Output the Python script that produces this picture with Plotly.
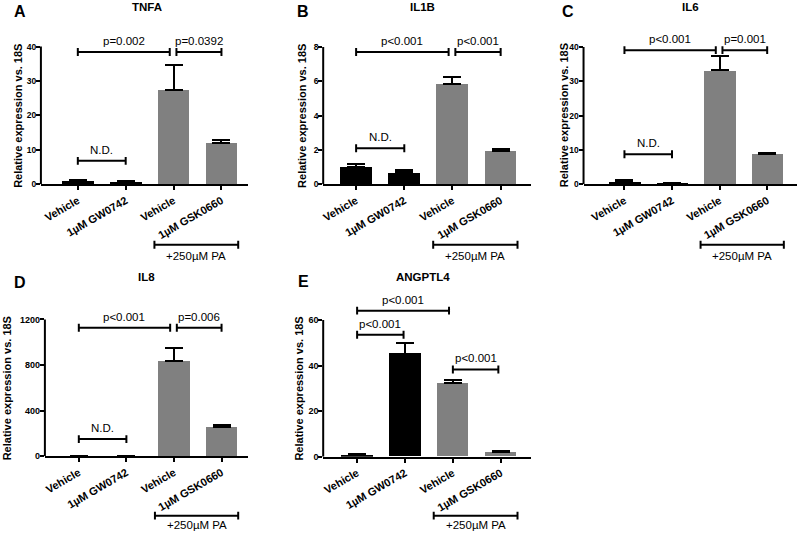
import plotly.graph_objects as go

# ---------------- data ----------------
categories = ["Vehicle", "1µM GW0742", "Vehicle", "1µM GSK0660"]
x_pos = [0, 1, 2, 3]
bar_colors = ["#000000", "#000000", "#808080", "#808080"]

tnfa_mean = [0.95, 0.75, 27.5, 12.1]
tnfa_err = [0.4, 0.2, 7.0, 0.9]
tnfa_ticks = [0, 10, 20, 30, 40]

il1b_mean = [1.02, 0.69, 5.86, 1.93]
il1b_err = [0.19, 0.13, 0.40, 0.15]
il1b_ticks = [0, 2, 4, 6, 8]

il6_mean = [0.85, 0.3, 33.2, 8.8]
il6_err = [0.3, 0.1, 4.1, 0.4]
il6_ticks = [0, 10, 20, 30, 40]

il8_mean = [0, 0, 833, 254]
il8_err = [0, 0, 120, 24]
il8_ticks = [0, 400, 800, 1200]

angptl4_mean = [0.75, 45.2, 32.2, 1.9]
angptl4_err = [0.5, 4.6, 1.3, 0.4]
angptl4_ticks = [0, 20, 40, 60]

gene_names = ["TNFA", "IL1B", "IL6", "IL8", "ANGPTL4"]
panel_letters = ["A", "B", "C", "D", "E"]
y_title = "Relative expression vs. 18S"
pa_label = "+250µM PA"

# significance brackets: (from bar, to bar, height, label)
tnfa_sig = [(0, 1.92, 38.4, "p=0.002"), (2.06, 3, 38.4, "p=0.0392"), (0, 1, 6.8, "N.D.")]
il1b_sig = [(0, 1.92, 7.71, "p<0.001"), (2.06, 3, 7.71, "p<0.001"), (0, 1, 2.1, "N.D.")]
il6_sig = [(0, 1.92, 39.1, "p<0.001"), (2.06, 3, 39.1, "p=0.001"), (0, 1, 8.75, "N.D.")]
il8_sig = [(0, 1.92, 1128, "p<0.001"), (2.06, 3, 1128, "p=0.006"), (0, 1, 150, "N.D.")]
angptl4_sig = [(0, 1.92, 64.1, "p<0.001"), (0, 0.97, 53.5, "p<0.001"), (2.0, 2.95, 38.3, "p<0.001")]

means = [tnfa_mean, il1b_mean, il6_mean, il8_mean, angptl4_mean]
errs = [tnfa_err, il1b_err, il6_err, il8_err, angptl4_err]
ticks = [tnfa_ticks, il1b_ticks, il6_ticks, il8_ticks, angptl4_ticks]
sigs = [tnfa_sig, il1b_sig, il6_sig, il8_sig, angptl4_sig]

# ---------------- layout geometry (pixels) ----------------
W, H = 800, 537
FONT = "Liberation Sans, Arial, Helvetica, sans-serif"
geom = [
    dict(left=39, right=247, bar0=76, step=48.0, base=186, ttop=47, dtop=22, ytf=8.5,
         letter=(18, 12), title=(145, 7), ytx=16.5, pa_y=247, pa_ty=258),
    dict(left=322, right=530, bar0=355, step=48.3, base=186, ttop=47.5, dtop=22, ytf=8.5,
         letter=(302, 12), title=(422, 7), ytx=300, pa_y=247, pa_ty=258),
    dict(left=583, right=797, bar0=624, step=47.7, base=186, ttop=47.5, dtop=22, ytf=8.5,
         letter=(567, 12), title=(690, 7), ytx=563, pa_y=247, pa_ty=258),
    dict(left=43, right=247, bar0=77, step=47.7, base=460.5, ttop=322.5, dtop=296, ytf=9,
         letter=(18, 285), title=(145, 280), ytx=4.5, pa_y=520.5, pa_ty=530),
    dict(left=322, right=530, bar0=356, step=48.0, base=461, ttop=323, dtop=296, ytf=9,
         letter=(302, 284), title=(422, 280), ytx=298, pa_y=520.5, pa_ty=530),
]

def px_x(p):
    return p / W

def px_y(p):
    return 1 - p / H

fig = go.Figure()
shapes = []
annotations = []
layout_axes = {}

for i in range(5):
    g = geom[i]
    n = "" if i == 0 else str(i + 1)
    xa, ya = "x" + n, "y" + n
    tk = ticks[i]
    ppu = (g["base"] - g["ttop"]) / tk[-1]          # pixels per unit
    ytop = (g["base"] - g["dtop"]) / ppu
    xr0 = -(g["bar0"] - g["left"]) / g["step"]
    xr1 = 3 + (g["right"] - (g["bar0"] + 3 * g["step"])) / g["step"]

    fig.add_trace(go.Bar(
        x=x_pos, y=means[i], marker=dict(color=bar_colors, line=dict(width=0)),
        width=0.66, xaxis=xa, yaxis=ya, showlegend=False,
        error_y=dict(type="data", symmetric=False, array=errs[i],
                     arrayminus=[0] * 4, color="black", thickness=2, width=9),
    ))

    layout_axes["xaxis" + n] = dict(
        domain=[px_x(g["left"]), px_x(g["right"])], anchor=ya, range=[xr0, xr1],
        tickmode="array", tickvals=x_pos, ticktext=categories, tickangle=-30,
        showline=True, linewidth=2, linecolor="black", ticks="outside",
        ticklen=4, tickwidth=2, tickcolor="black", showgrid=False, zeroline=False,
        tickfont=dict(family=FONT, size=11, color="black", weight="bold"),
    )
    layout_axes["yaxis" + n] = dict(
        domain=[px_y(g["base"]), px_y(g["dtop"])], anchor=xa, range=[0, ytop],
        tickmode="array", tickvals=tk, showline=False, ticks="outside",
        ticklen=4, tickwidth=2, tickcolor="black", showgrid=False, zeroline=False,
        ticklabelstandoff=-2,
        tickfont=dict(family=FONT, size=g["ytf"], color="black", weight="bold"),
    )

    # y axis line up to the top tick
    shapes.append(dict(type="line", xref=xa + " domain", yref=ya, x0=0, x1=0,
                       y0=0, y1=tk[-1], line=dict(color="black", width=2)))

    # significance brackets
    cap = 4 / ppu
    for (a, b, yv, lab) in sigs[i]:
        shapes.append(dict(
            type="path", xref=xa, yref=ya,
            path=f"M {a},{yv - cap} L {a},{yv + cap} M {a},{yv} L {b},{yv} M {b},{yv - cap} L {b},{yv + cap}",
            line=dict(color="black", width=2)))
        annotations.append(dict(
            x=(a + b) / 2, y=yv, xref=xa, yref=ya, text=lab, showarrow=False,
            yanchor="bottom", yshift=3,
            font=dict(family=FONT, size=11.5, color="black")))

    # +250µM PA bracket under the last two bars
    pcap = 4 / H
    py = px_y(g["pa_y"])
    shapes.append(dict(
        type="path", xref=xa, yref="paper",
        path=f"M 1.6,{py - pcap} L 1.6,{py + pcap} M 1.6,{py} L 3.35,{py} M 3.35,{py - pcap} L 3.35,{py + pcap}",
        line=dict(color="black", width=2)))
    annotations.append(dict(
        x=2.475, y=px_y(g["pa_ty"]), xref=xa, yref="paper", text=pa_label,
        showarrow=False, yanchor="middle",
        font=dict(family=FONT, size=11.5, color="black")))

    # panel letter, gene title, y title
    annotations.append(dict(
        x=px_x(g["letter"][0]), y=px_y(g["letter"][1]), xref="paper", yref="paper",
        text=panel_letters[i], showarrow=False, xanchor="center", yanchor="middle",
        font=dict(family=FONT, size=16, color="black", weight="bold")))
    annotations.append(dict(
        x=px_x(g["title"][0]), y=px_y(g["title"][1]), xref="paper", yref="paper",
        text=gene_names[i], showarrow=False, xanchor="center", yanchor="middle",
        font=dict(family=FONT, size=11.5, color="black", weight="bold")))
    annotations.append(dict(
        x=px_x(g["ytx"]), y=px_y((g["base"] + g["ttop"]) / 2), xref="paper", yref="paper",
        text=y_title, textangle=-90, showarrow=False, xanchor="center", yanchor="middle",
        font=dict(family=FONT, size=11, color="black", weight="bold")))

fig.update_layout(
    width=W, height=H, margin=dict(l=0, r=0, t=0, b=0),
    paper_bgcolor="white", plot_bgcolor="white",
    barmode="group", bargap=0, showlegend=False,
    shapes=shapes, annotations=annotations,
    font=dict(family=FONT, color="black"),
    **layout_axes,
)

fig.write_html(
    "out.html",
    config={"displayModeBar": False},
    post_script="document.body.style.margin='0px';document.body.style.overflow='hidden';",
)
